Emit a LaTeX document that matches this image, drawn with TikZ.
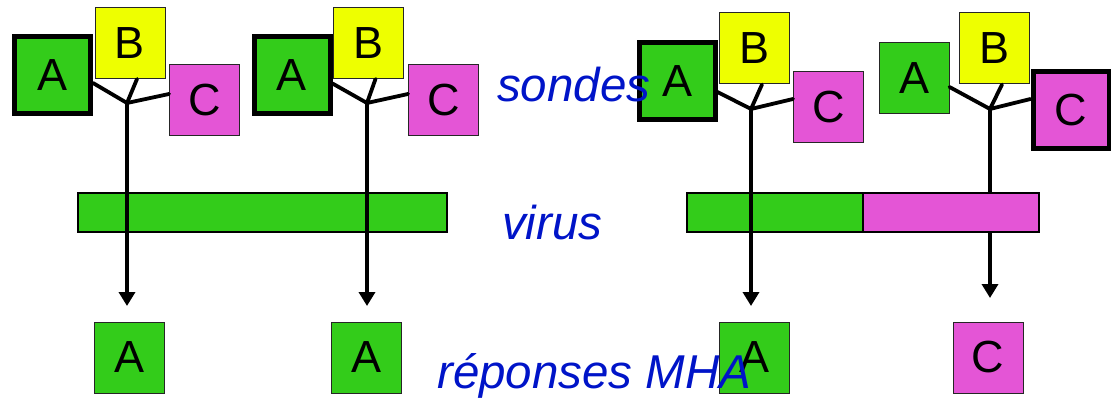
\documentclass[tikz,border=0pt]{standalone}
\usepackage{fontspec}
\setmainfont{Liberation Sans}
\usetikzlibrary{calc,arrows.meta}

\definecolor{probeGreen}{RGB}{51,204,26}
\definecolor{probeYellow}{RGB}{238,255,0}
\definecolor{probeMagenta}{RGB}{228,85,214}
\definecolor{labelBlue}{RGB}{0,20,200}

\tikzset{
  probe/.style={draw=black!85, line width=1pt, minimum width=70pt, minimum height=71pt,
                inner sep=0pt, font=\fontsize{45}{45}\selectfont},
  boundprobe/.style={probe, draw=black, line width=5pt, minimum width=76pt, minimum height=77pt},
  pA/.style={fill=probeGreen},
  pB/.style={fill=probeYellow},
  pC/.style={fill=probeMagenta},
  segment/.style={draw=black, line width=1.6pt, minimum height=39pt, inner sep=0pt},
  stem/.style={line width=3.8pt, line cap=round},
  signal/.style={line width=3.8pt, -{Triangle[width=16pt,length=14pt]}},
  tag/.style={anchor=base west, inner sep=0pt, text=labelBlue,
              font=\fontsize{47.5}{47.5}\selectfont\itshape}
}

\begin{document}
\begin{tikzpicture}[x=1pt,y=-1pt]
\useasboundingbox (0,0) rectangle (1111,398);

% ---- probe triplets ----
\node[boundprobe,pA] (a1) at (52.5,75) {A};
\node[probe,pB] (b1) at (130,43) {B};
\node[probe,pC] (c1) at (204.5,100) {C};
\coordinate (j1) at (127,103);

\node[boundprobe,pA] (a2) at (292,75.5) {A};
\node[probe,pB] (b2) at (368.5,43) {B};
\node[probe,pC] (c2) at (443.5,100) {C};
\coordinate (j2) at (367,103);

\node[boundprobe,pA] (a3) at (677,81) {A};
\node[probe,pB] (b3) at (754,48.5) {B};
\node[probe,pC] (c3) at (828.5,107) {C};
\coordinate (j3) at (751,109);

\node[probe,pA] (a4) at (914,78.5) {A};
\node[probe,pB] (b4) at (994,48.5) {B};
\node[boundprobe,pC] (c4) at (1071,110) {C};
\coordinate (j4) at (990,109);

% arm connectors
\draw[stem] ($(a1.east)+(0,8)$) -- (j1) -- ($(b1.south)+(7,0)$);
\draw[stem] (j1) -- ($(c1.west)+(0,-6)$);
\draw[stem] ($(a2.east)+(0,8)$) -- (j2) -- ($(b2.south)+(7,0)$);
\draw[stem] (j2) -- ($(c2.west)+(0,-6)$);
\draw[stem] ($(a3.east)+(0,11)$) -- (j3) -- ($(b3.south)+(8,0)$);
\draw[stem] (j3) -- ($(c3.west)+(0,-8)$);
\draw[stem] ($(a4.east)+(0,8.5)$) -- (j4) -- ($(b4.south)+(8,0)$);
\draw[stem] (j4) -- ($(c4.west)+(0,-11)$);

% ---- responses ----
\node[probe,pA] (r1) at (129.5,357.5) {A};
\node[probe,pA] (r2) at (366.5,357.5) {A};
\node[probe,pA] (r3) at (754,357.5) {A};
\node[probe,pC] (r4) at (988,357.5) {C};

\coordinate (t1) at (127,306);
\coordinate (t2) at (367,306);
\coordinate (t3) at (751,306);
\coordinate (t4) at (990,298);

% the last stem runs behind the recombinant genome
\draw[signal] (j4) -- (t4);

% ---- viral genomes ----
\node[segment,pA,minimum width=369pt] (v1) at (262.5,212.5) {};
\node[segment,pA,minimum width=176pt] (v2a) at (775,212.5) {};
\node[segment,pC,minimum width=176pt] (v2b) at (951,212.5) {};

\draw[signal] (j1) -- (t1);
\draw[signal] (j2) -- (t2);
\draw[signal] (j3) -- (t3);

% ---- labels ----
\node[tag] (lsondes) at (497,102) {sondes};
\node[tag] (lvirus) at (502,240) {virus};
\node[tag] (lmha) at (437,388) {réponses MHA};
\end{tikzpicture}
\end{document}
